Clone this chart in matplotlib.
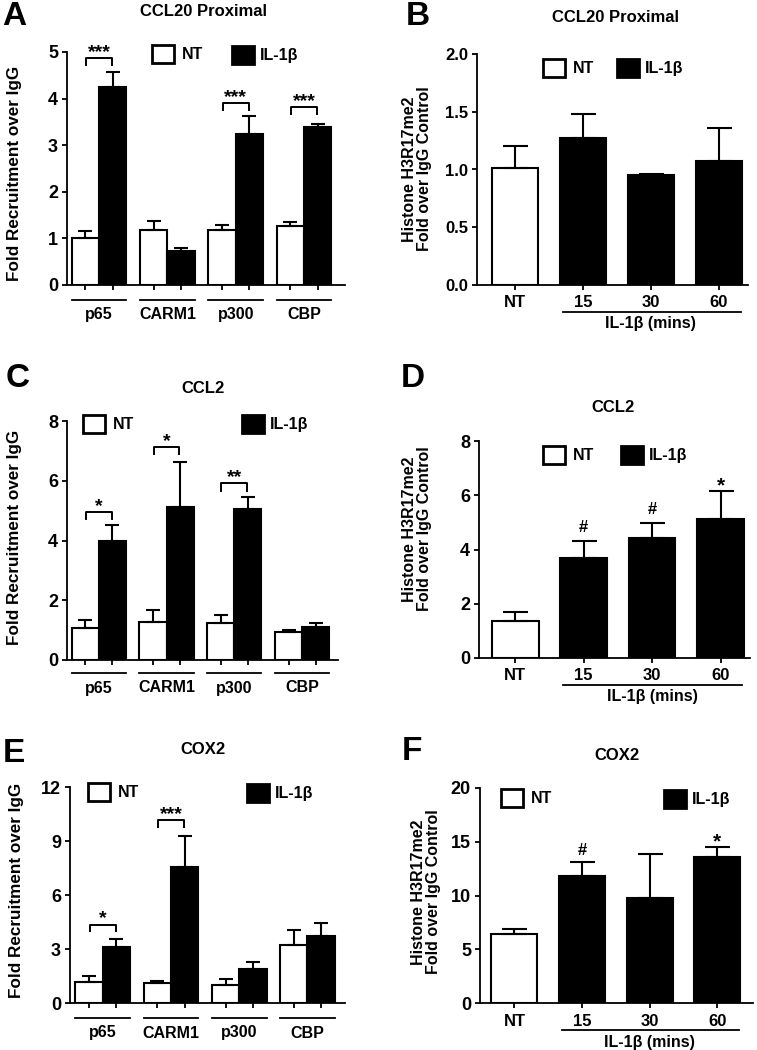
import matplotlib
matplotlib.use('Agg')
import matplotlib.pyplot as plt
from matplotlib.patches import Patch
from matplotlib.transforms import ScaledTranslation
import numpy as np

plt.rcParams['font.family'] = ['Liberation Sans', 'DejaVu Sans']
plt.rcParams['font.weight'] = 'bold'

W, H, DPI = 757, 1050, 100

# ---------------- data ----------------
factors = ['p65', 'CARM1', 'p300', 'CBP']
times = ['NT', '15', '30', '60']

# Panel A: CCL20 Proximal (factor recruitment)
A_nt = [1.00, 1.17, 1.19, 1.27]
A_nt_err = [0.15, 0.20, 0.10, 0.08]
A_il = [4.25, 0.74, 3.23, 3.40]
A_il_err = [0.33, 0.06, 0.39, 0.05]
A_sig = [(0, 4.87, '***'), (2, 3.91, '***'), (3, 3.81, '***')]

# Panel B: CCL20 Proximal (H3R17me2)
B_vals = [1.01, 1.27, 0.95, 1.07]
B_err = [0.19, 0.21, 0.01, 0.29]

# Panel C: CCL2 (factor recruitment)
C_nt = [1.07, 1.28, 1.25, 0.95]
C_nt_err = [0.26, 0.40, 0.25, 0.05]
C_il = [4.00, 5.13, 5.05, 1.12]
C_il_err = [0.53, 1.50, 0.40, 0.11]
C_sig = [(0, 4.96, '*'), (1, 7.13, '*'), (2, 5.91, '**')]

# Panel D: CCL2 (H3R17me2)
D_vals = [1.37, 3.68, 4.44, 5.12]
D_err = [0.32, 0.64, 0.55, 1.02]
D_marks = [(1, 4.65, '#'), (2, 5.31, '#'), (3, 6.24, '*')]

# Panel E: COX2 (factor recruitment)
E_nt = [1.17, 1.11, 1.02, 3.25]
E_nt_err = [0.33, 0.09, 0.30, 0.80]
E_il = [3.11, 7.56, 1.87, 3.72]
E_il_err = [0.43, 1.70, 0.41, 0.75]
E_sig = [(0, 4.36, '*'), (1, 10.15, '***')]

# Panel F: COX2 (H3R17me2)
F_vals = [6.41, 11.85, 9.74, 13.62]
F_err = [0.44, 1.25, 4.10, 0.93]
F_marks = [(1, 13.73, '#'), (3, 14.75, '*')]

# ---------------- helpers ----------------
fig = plt.figure(figsize=(W / DPI, H / DPI), dpi=DPI)


def fx(x):
    return x / W


def fy(y):
    return 1 - y / H


def add_axes_px(x0, y0, x1, y1):
    return fig.add_axes([fx(x0), fy(y1), (x1 - x0) / W, (y1 - y0) / H])


def style_axes(ax, ymax, ystep, fmt, size):
    for s in ['top', 'right']:
        ax.spines[s].set_visible(False)
    for s in ['left', 'bottom']:
        ax.spines[s].set_linewidth(1.3)
    ax.set_ylim(0, ymax)
    ticks = np.arange(0, ymax + ystep / 2, ystep)
    ax.set_yticks(ticks)
    ax.set_yticklabels([fmt.format(t) for t in ticks])
    ax.tick_params(axis='both', direction='out', length=3.5, width=1.3,
                   labelsize=size, pad=3)
    ax.tick_params(axis='x', labelbottom=False)


def below(ax, dy_px):
    return ax.get_xaxis_transform() + ScaledTranslation(0, -dy_px / DPI, fig.dpi_scale_trans)


ekw_small = dict(elinewidth=1.5, capsize=5, capthick=1.5, ecolor='black')
ekw_big = dict(elinewidth=1.5, capsize=9, capthick=1.5, ecolor='black')


def group_panel(ax, nt, nt_err, il, il_err, ymax, ystep, xlim, sig, dl, dt):
    x = np.arange(len(factors))
    w = 0.40
    z = np.zeros(len(x))
    ax.bar(x - w / 2, nt, w, yerr=[z, nt_err], color='white', edgecolor='black',
           linewidth=1.5, error_kw=ekw_small, zorder=3)
    ax.bar(x + w / 2, il, w, yerr=[z, il_err], color='black', edgecolor='black',
           linewidth=1.5, error_kw=ekw_small, zorder=3)
    ax.set_xlim(*xlim)
    style_axes(ax, ymax, ystep, '{:.0f}', 13)
    ax.set_xticks(np.sort(np.concatenate([x - w / 2, x + w / 2])))
    for i, lab in enumerate(factors):
        ax.plot([i - 0.40, i + 0.40], [0, 0], transform=below(ax, dl),
                color='black', lw=1.3, clip_on=False)
        ax.text(i, 0, lab, transform=below(ax, dt), ha='center', va='center',
                fontsize=11.5)
    leg = 0.03 * ymax
    for gi, yb, txt in sig:
        x0, x1 = gi - 0.19, gi + 0.19
        ax.plot([x0, x0, x1, x1], [yb - leg, yb, yb, yb - leg], color='black',
                lw=1.4, clip_on=False, zorder=4)
        ax.annotate(txt, xy=(gi, yb), xytext=(0, 0.8), textcoords='offset points',
                    ha='center', va='baseline', fontsize=14, annotation_clip=False)


def time_panel(ax, vals, err, ymax, ystep, xlim, fmt, marks, size):
    x = np.arange(len(times))
    z = np.zeros(len(x))
    colors = ['white', 'black', 'black', 'black']
    ax.bar(x, vals, 0.68, yerr=[z, err], color=colors, edgecolor='black',
           linewidth=1.5, error_kw=ekw_big, zorder=3)
    ax.set_xlim(*xlim)
    style_axes(ax, ymax, ystep, fmt, size)
    ax.set_xticks(x)
    for i, lab in enumerate(times):
        ax.text(i, 0, lab, transform=below(ax, 18), ha='center', va='center',
                fontsize=12)
    ax.plot([0.70, 3.32], [0, 0], transform=below(ax, 27), color='black',
            lw=1.3, clip_on=False)
    ax.text(2.0, 0, 'IL-1β (mins)', transform=below(ax, 39), ha='center',
            va='center', fontsize=11.5)
    for i, yv, txt in marks:
        fs = 15 if txt == '*' else 12
        ax.text(i, yv - (0.012 * ymax if txt == '*' else 0), txt, ha='center',
                va='baseline', fontsize=fs)


def legend_px(x, y, face, label, pad):
    fig.legend(handles=[Patch(facecolor=face, edgecolor='black', linewidth=2)],
               labels=[label], loc='center left', bbox_to_anchor=(fx(x), fy(y)),
               frameon=False, borderpad=0, borderaxespad=0, handlelength=1.4,
               handleheight=1.4, handletextpad=pad,
               prop={'size': 11.5, 'weight': 'bold'})


def text_px(x, y, s, size, va='center', **kw):
    fig.text(fx(x), fy(y), s, fontsize=size, ha='center', va=va, **kw)


# ---------------- panels ----------------
axA = add_axes_px(67, 52, 345, 285)
group_panel(axA, A_nt, A_nt_err, A_il, A_il_err, 5, 1, (-0.47, 3.60), A_sig, 15, 30)

axB = add_axes_px(477, 54, 748, 285)
time_panel(axB, B_vals, B_err, 2.0, 0.5, (-0.56, 3.43), '{:.1f}', [], 12)

axC = add_axes_px(67, 421, 338, 660)
group_panel(axC, C_nt, C_nt_err, C_il, C_il_err, 8, 2, (-0.47, 3.53), C_sig, 13, 28)

axD = add_axes_px(479, 441, 750, 658)
time_panel(axD, D_vals, D_err, 8, 2, (-0.53, 3.43), '{:.0f}', D_marks, 13)

axE = add_axes_px(70, 787, 345, 1003)
group_panel(axE, E_nt, E_nt_err, E_il, E_il_err, 12, 3, (-0.48, 3.55), E_sig, 15, 30)

axF = add_axes_px(480, 788, 753, 1003)
time_panel(axF, F_vals, F_err, 20, 5, (-0.51, 3.53), '{:.0f}', F_marks, 13)

# legends
legend_px(152, 54, 'white', 'NT', 0.5)
legend_px(232, 55, 'black', 'IL-1β', 0.35)
legend_px(543, 68, 'white', 'NT', 0.5)
legend_px(617, 68, 'black', 'IL-1β', 0.35)
legend_px(83, 424, 'white', 'NT', 0.5)
legend_px(242, 424, 'black', 'IL-1β', 0.35)
legend_px(543, 455, 'white', 'NT', 0.5)
legend_px(621, 455, 'black', 'IL-1β', 0.35)
legend_px(88, 792, 'white', 'NT', 0.5)
legend_px(247, 793, 'black', 'IL-1β', 0.35)
legend_px(501, 798, 'white', 'NT', 0.5)
legend_px(664, 799, 'black', 'IL-1β', 0.35)

# titles
text_px(203, 12, 'CCL20 Proximal', 12)
text_px(615, 17, 'CCL20 Proximal', 12)
text_px(203, 388, 'CCL2', 12)
text_px(613, 408, 'CCL2', 12)
text_px(203, 750, 'COX2', 12)
text_px(617, 755, 'COX2', 12)

# panel letters (baseline placed at bottom of the glyph)
text_px(14, 25, 'A', 24, va='baseline')
text_px(418, 25, 'B', 24, va='baseline')
text_px(18, 387, 'C', 24, va='baseline')
text_px(413, 387, 'D', 24, va='baseline')
text_px(14, 762, 'E', 24, va='baseline')
text_px(412, 760, 'F', 24, va='baseline')

# y labels
text_px(15, 173, 'Fold Recruitment over IgG', 12.3, rotation=90)
text_px(15, 537, 'Fold Recruitment over IgG', 12.3, rotation=90)
text_px(17, 890, 'Fold Recruitment over IgG', 12.3, rotation=90)
text_px(417, 169, 'Histone H3R17me2\nFold over IgG Control', 11.5, rotation=90, linespacing=1.05)
text_px(417, 529, 'Histone H3R17me2\nFold over IgG Control', 11.5, rotation=90, linespacing=1.05)
text_px(426, 892, 'Histone H3R17me2\nFold over IgG Control', 11.5, rotation=90, linespacing=1.05)

fig.savefig('out.png', dpi=DPI)
